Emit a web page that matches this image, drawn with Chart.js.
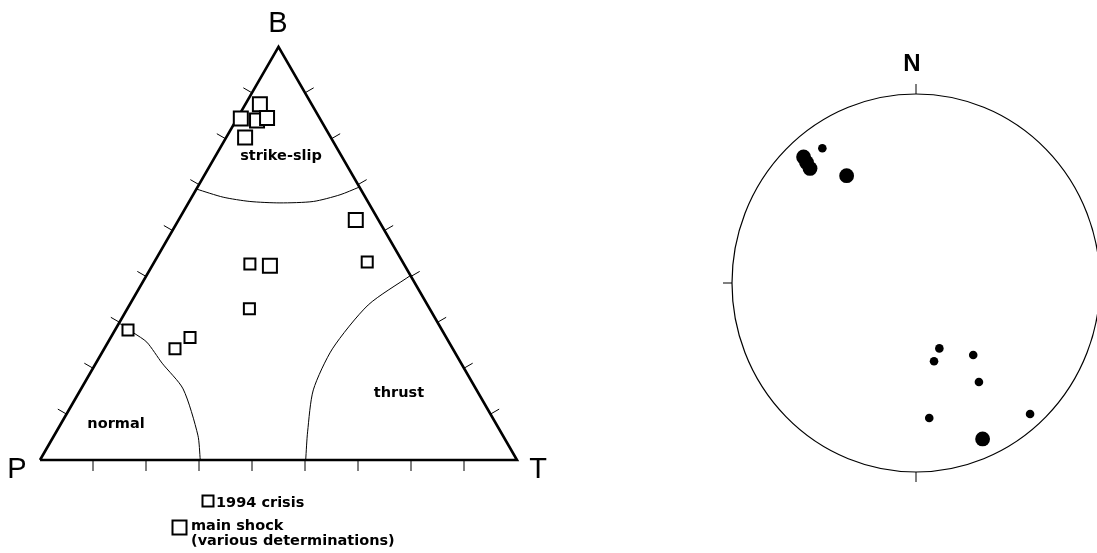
<!DOCTYPE html>
<html>
<head>
<meta charset="utf-8">
<script src="https://cdn.jsdelivr.net/npm/chart.js@4.4.1/dist/chart.umd.min.js"></script>
<style>
  html, body { margin: 0; padding: 0; background: #fff; }
  #wrap { position: relative; width: 1097px; height: 553px; overflow: hidden; }
  canvas { position: absolute; top: 0; }
  #tri { left: 0; }
  #stereo { left: 560px; }
</style>
</head>
<body>
<div id="wrap">
  <canvas id="tri" width="560" height="553"></canvas>
  <canvas id="stereo" width="537" height="553"></canvas>
</div>
<script>
// --- ternary diagram (P - T - B), units: base P-T = 1 ---
const corners = [{x: 0, y: 0}, {x: 1, y: 0}, {x: 0.5, y: 0.866}, {x: 0, y: 0}];
const cornerNames = ['P', 'T', 'B'];
const regionNames = ['strike-slip', 'normal', 'thrust'];

// field boundaries
const strikeSlipLine = [
  {x: 0.328, y: 0.568}, {x: 0.384, y: 0.551}, {x: 0.440, y: 0.542}, {x: 0.503, y: 0.539},
  {x: 0.573, y: 0.542}, {x: 0.629, y: 0.556}, {x: 0.669, y: 0.572}
];
const normalLine = [
  {x: 0.166, y: 0.287}, {x: 0.197, y: 0.266}, {x: 0.224, y: 0.247}, {x: 0.256, y: 0.203},
  {x: 0.300, y: 0.149}, {x: 0.331, y: 0.052}, {x: 0.336, y: 0}
];
const thrustLine = [
  {x: 0.557, y: 0}, {x: 0.561, y: 0.059}, {x: 0.573, y: 0.147}, {x: 0.613, y: 0.233},
  {x: 0.688, y: 0.325}, {x: 0.777, y: 0.387}
];

// mechanisms
const mainShock = [
  {x: 0.461, y: 0.746}, {x: 0.421, y: 0.716}, {x: 0.455, y: 0.712}, {x: 0.476, y: 0.717},
  {x: 0.430, y: 0.676}, {x: 0.662, y: 0.503}, {x: 0.482, y: 0.407}
];
const crisis1994 = [
  {x: 0.440, y: 0.411}, {x: 0.686, y: 0.415}, {x: 0.439, y: 0.317},
  {x: 0.1845, y: 0.2725}, {x: 0.3145, y: 0.257}, {x: 0.283, y: 0.233}
];
const legendNames = ['1994 crisis', 'main shock', '(various determinations)'];

// --- stereonet, unit circle ---
const mainShockAxes = [
  {x: -0.611, y: 0.667}, {x: -0.595, y: 0.638}, {x: -0.576, y: 0.606},
  {x: -0.377, y: 0.568}, {x: 0.362, y: -0.825}
];
const crisisAxes = [
  {x: -0.509, y: 0.713}, {x: 0.127, y: -0.346}, {x: 0.098, y: -0.414}, {x: 0.311, y: -0.381},
  {x: 0.342, y: -0.524}, {x: 0.072, y: -0.714}, {x: 0.620, y: -0.693}
];

const BOLD = 'bold 14.5px "DejaVu Sans", sans-serif';

// ticks on the triangle edges, ninths, pointing outward
const triDecor = {
  id: 'triDecor',
  beforeDatasetsDraw(chart) {
    const {ctx, scales: {x, y}} = chart;
    ctx.save();
    ctx.strokeStyle = '#000';
    ctx.lineWidth = 1;
    for (let e = 0; e < 3; e++) {
      const ax = x.getPixelForValue(corners[e].x), ay = y.getPixelForValue(corners[e].y);
      const bx = x.getPixelForValue(corners[e + 1].x), by = y.getPixelForValue(corners[e + 1].y);
      const len = Math.hypot(bx - ax, by - ay);
      const dx = (bx - ax) / len, dy = (by - ay) / len;
      const nx = -dy, ny = dx;
      const tl = e === 0 ? 11 : 10;
      for (let k = 1; k < 9; k++) {
        const px = ax + (bx - ax) * k / 9, py = ay + (by - ay) * k / 9;
        ctx.beginPath();
        ctx.moveTo(px, py);
        ctx.lineTo(px + nx * tl, py + ny * tl);
        ctx.stroke();
      }
    }
    ctx.restore();
  },
  afterDraw(chart) {
    const {ctx} = chart;
    ctx.save();
    ctx.fillStyle = '#000';
    ctx.textAlign = 'center';
    ctx.textBaseline = 'alphabetic';
    ctx.font = '29px "Liberation Sans", Arial, sans-serif';
    ctx.fillText(cornerNames[0], 17, 478);
    ctx.fillText(cornerNames[1], 538, 478);
    ctx.fillText(cornerNames[2], 278, 32);

    ctx.font = BOLD;
    ctx.fillText(regionNames[0], 281, 160);
    ctx.fillText(regionNames[1], 116, 428);
    ctx.fillText(regionNames[2], 399, 397);

    // legend
    ctx.strokeStyle = '#000';
    ctx.lineWidth = 2;
    ctx.strokeRect(202.5, 495.5, 11, 11);
    ctx.strokeRect(172.5, 520.5, 14, 14);
    ctx.textAlign = 'left';
    ctx.fillText(legendNames[0], 216, 507);
    ctx.fillText(legendNames[1], 191, 530);
    ctx.fillText(legendNames[2], 191, 545);
    ctx.restore();
  }
};

const stereoDecor = {
  id: 'stereoDecor',
  beforeDatasetsDraw(chart) {
    const {ctx, scales: {x, y}} = chart;
    const cx = x.getPixelForValue(0), cy = y.getPixelForValue(0);
    const rx = x.getPixelForValue(1) - cx, ry = cy - y.getPixelForValue(1);
    ctx.save();
    ctx.strokeStyle = '#000';
    ctx.lineWidth = 1.2;
    ctx.beginPath();
    ctx.ellipse(cx, cy, rx, ry, 0, 0, Math.PI * 2);
    ctx.stroke();
    ctx.lineWidth = 1;
    ctx.beginPath();
    ctx.moveTo(cx, cy - ry); ctx.lineTo(cx, cy - ry - 10);
    ctx.moveTo(cx - rx, cy); ctx.lineTo(cx - rx - 9, cy);
    ctx.moveTo(cx, cy + ry); ctx.lineTo(cx, cy + ry + 10);
    ctx.stroke();
    ctx.fillStyle = '#000';
    ctx.font = 'bold 24px "Liberation Sans", Arial, sans-serif';
    ctx.textAlign = 'center';
    ctx.fillText('N', cx - 4, cy - ry - 23);
    ctx.restore();
  }
};

const hidden = {display: false};

function lineSet(data, width) {
  return {
    data, showLine: true, borderColor: '#000', borderWidth: width,
    pointRadius: 0, tension: 0.25, fill: false, order: 2
  };
}

function squareSet(data, radius) {
  return {
    data, pointStyle: 'rect', pointRadius: radius, borderColor: '#000',
    backgroundColor: '#fff', pointBorderWidth: 2, borderWidth: 2, order: 0
  };
}

new Chart(document.getElementById('tri'), {
  type: 'scatter',
  data: {
    datasets: [
      squareSet(crisis1994, 7.8),
      squareSet(mainShock, 9.9),
      Object.assign(lineSet(corners, 2.6), {tension: 0, borderJoinStyle: 'miter'}),
      lineSet(strikeSlipLine, 1),
      lineSet(normalLine, 1),
      lineSet(thrustLine, 1)
    ]
  },
  options: {
    responsive: false,
    animation: false,
    events: [],
    layout: {padding: 0, autoPadding: false},
    plugins: {legend: hidden, tooltip: {enabled: false}},
    scales: {
      x: {display: false, min: -40 / 477, max: 520 / 477},
      y: {display: false, min: -93 / 477, max: 460 / 477}
    },
    clip: false
  },
  plugins: [triDecor]
});

new Chart(document.getElementById('stereo'), {
  type: 'scatter',
  data: {
    datasets: [
      {data: crisisAxes, pointRadius: 4.3, backgroundColor: '#000', borderWidth: 0},
      {data: mainShockAxes, pointRadius: 7.4, backgroundColor: '#000', borderWidth: 0}
    ]
  },
  options: {
    responsive: false,
    animation: false,
    events: [],
    layout: {padding: 0, autoPadding: false},
    plugins: {legend: hidden, tooltip: {enabled: false}},
    scales: {
      x: {display: false, min: -356 / 184, max: 181 / 184},
      y: {display: false, min: -270 / 189, max: 283 / 189}
    },
    clip: false
  },
  plugins: [stereoDecor]
});
</script>
</body>
</html>
